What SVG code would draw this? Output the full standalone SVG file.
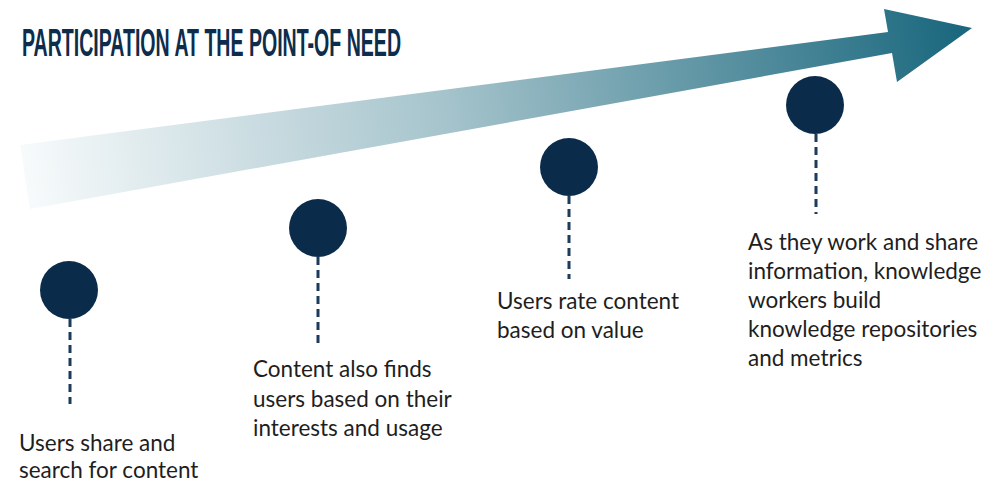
<svg xmlns="http://www.w3.org/2000/svg" width="996" height="484" viewBox="0 0 996 484">
  <defs>
    <linearGradient id="shaftFill" gradientUnits="userSpaceOnUse" x1="20" y1="170" x2="960" y2="40">
      <stop offset="0" stop-color="#f8fbfc"/>
      <stop offset="0.45" stop-color="#a6c4cc"/>
      <stop offset="1" stop-color="#1b687e"/>
    </linearGradient>
  </defs>
  <style>
    .title { font-family: "Liberation Sans Narrow", "Liberation Sans", sans-serif; font-weight: bold; font-size: 38px; fill: #0e2c4b; }
    .dot { fill: #0b2b4a; }
    .stem { stroke: #1d3b5b; stroke-width: 3; stroke-dasharray: 8 5; fill: none; }
    .label { font-family: Lato, "Noto Sans", sans-serif; font-size: 22.5px; fill: #1e1e1e; }
  </style>

  <rect width="996" height="484" fill="#ffffff"/>

  <!-- heading -->
  <text class="title" x="22" y="56" textLength="379" lengthAdjust="spacingAndGlyphs">PARTICIPATION AT THE POINT-OF NEED</text>

  <!-- rising arrow -->
  <polygon id="progress-arrow" fill="url(#shaftFill)" points="20,145 888,32 884,9 972,28 897,82 892,53 30,209"/>

  <!-- connectors: dashed stems below each milestone -->
  <g id="connectors">
    <line class="stem" x1="70" y1="319" x2="70" y2="404"/>
    <line class="stem" x1="318" y1="257" x2="318" y2="343"/>
    <line class="stem" x1="569" y1="196" x2="569" y2="279"/>
    <line class="stem" x1="816" y1="134" x2="816" y2="214"/>
  </g>

  <g id="step-share">
    <circle class="dot" cx="69" cy="290" r="29"/>
    <text class="label" x="19" y="451">Users share and</text>
    <text class="label" x="19" y="478">search for content</text>
  </g>

  <g id="step-finds">
    <circle class="dot" cx="318" cy="228" r="29"/>
    <text class="label" x="253" y="377">Content also finds</text>
    <text class="label" x="253" y="407">users based on their</text>
    <text class="label" x="253" y="436">interests and usage</text>
  </g>

  <g id="step-rate">
    <circle class="dot" cx="569" cy="167" r="29"/>
    <text class="label" x="497" y="309">Users rate content</text>
    <text class="label" x="497" y="338">based on value</text>
  </g>

  <g id="step-build">
    <circle class="dot" cx="815" cy="105" r="29"/>
    <text class="label" x="748" y="250">As they work and share</text>
    <text class="label" x="748" y="279">information, knowledge</text>
    <text class="label" x="748" y="308">workers build</text>
    <text class="label" x="748" y="337">knowledge repositories</text>
    <text class="label" x="748" y="366">and metrics</text>
  </g>
</svg>
